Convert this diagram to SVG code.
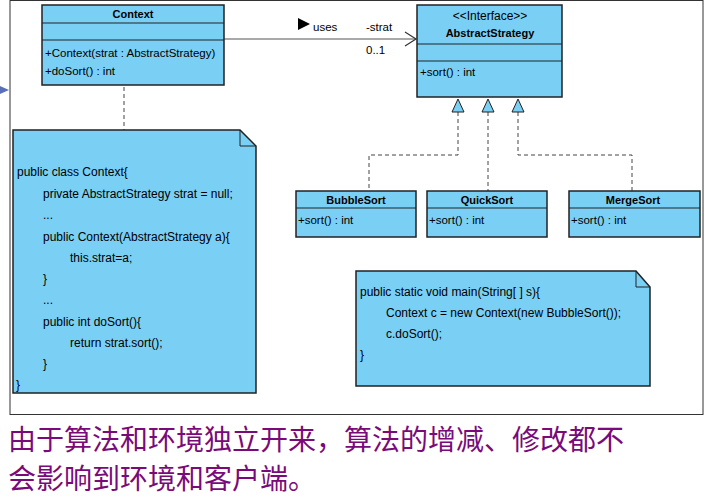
<svg xmlns="http://www.w3.org/2000/svg" width="706" height="496" viewBox="0 0 706 496">
<style>
.box{fill:#7acff5;stroke:#222;stroke-width:1.5}
.ln{stroke:#222;stroke-width:1}
.t{font-family:"Liberation Sans",Arial,sans-serif;font-size:12px;fill:#000}
.b{font-weight:bold;font-size:11px}
.s{font-size:11.5px}
.n{font-size:12px}
.dash{fill:none;stroke:#444;stroke-width:1;stroke-dasharray:4,3}
.cn{font-family:"Noto Sans CJK SC",sans-serif;font-size:28px;fill:#7a0a7a}
</style>
<rect width="706" height="496" fill="#fff"/>
<rect x="10" y="0.5" width="693" height="414" fill="#fff" stroke="#333" stroke-width="1"/>
<path d="M0,86 L9,90 L0,94 Z" fill="#5a6fb8"/>
<g id="connectors">
<line x1="224" y1="39" x2="416" y2="39" stroke="#555" stroke-width="1.2"/>
<path d="M405,32 L416,39 L405,46" fill="none" stroke="#333" stroke-width="1.2"/>
<path d="M298,18 L310,24 L298,30 Z" fill="#000"/>
<text class="t s" x="313" y="31">uses</text>
<text class="t s" x="366" y="31">-strat</text>
<text class="t s" x="366" y="54">0..1</text>
<line class="dash" x1="124" y1="87" x2="124" y2="130"/>
<path class="dash" d="M458,112 V155 H369 V191"/>
<path class="dash" d="M488,112 V191"/>
<path class="dash" d="M518,112 V155 H632 V191"/>
<path d="M452,112 L458,99 L464,112 Z M482,112 L488,99 L494,112 Z M512,112 L518,99 L524,112 Z" fill="#7acff5" stroke="#222" stroke-width="1"/>
</g>
<g id="context">
<rect class="box" x="42" y="5" width="182" height="80"/>
<line class="ln" x1="42" y1="23" x2="224" y2="23"/>
<line class="ln" x1="42" y1="40" x2="224" y2="40"/>
<text class="t b" x="133" y="18" text-anchor="middle">Context</text>
<text class="t s" x="45" y="57">+Context(strat : AbstractStrategy)</text>
<text class="t s" x="45" y="75">+doSort() : int</text>
</g>
<g id="abstract">
<rect class="box" x="417" y="5" width="145" height="92"/>
<line class="ln" x1="417" y1="44" x2="562" y2="44"/>
<line class="ln" x1="417" y1="61" x2="562" y2="61"/>
<text class="t" x="490" y="20" font-size="10" text-anchor="middle">&lt;&lt;Interface&gt;&gt;</text>
<text class="t b" x="490" y="37" text-anchor="middle">AbstractStrategy</text>
<text class="t s" x="420" y="76">+sort() : int</text>
</g>
<g id="bubble">
<rect class="box" x="296" y="191" width="120" height="46"/>
<line class="ln" x1="296" y1="208" x2="416" y2="208"/>
<text class="t b" x="356" y="204" text-anchor="middle">BubbleSort</text>
<text class="t s" x="298" y="224">+sort() : int</text>
</g>
<g id="quick">
<rect class="box" x="427" y="191" width="120" height="46"/>
<line class="ln" x1="427" y1="208" x2="547" y2="208"/>
<text class="t b" x="487" y="204" text-anchor="middle">QuickSort</text>
<text class="t s" x="429" y="224">+sort() : int</text>
</g>
<g id="merge">
<rect class="box" x="569" y="191" width="131" height="46"/>
<line class="ln" x1="569" y1="208" x2="700" y2="208"/>
<text class="t b" x="633" y="204" text-anchor="middle">MergeSort</text>
<text class="t s" x="571" y="224">+sort() : int</text>
</g>
<g id="note1">
<path class="box" d="M13,130 H240 L256,146 V393 H13 Z"/>
<path d="M240,130 V146 H256" fill="none" stroke="#222" stroke-width="1"/>
<g class="t n">
<text x="17" y="176">public class Context{</text>
<text x="43" y="198">private AbstractStrategy strat = null;</text>
<text x="43" y="219">...</text>
<text x="43" y="241">public Context(AbstractStrategy a){</text>
<text x="70" y="262">this.strat=a;</text>
<text x="43" y="283">}</text>
<text x="43" y="304">...</text>
<text x="43" y="326">public int doSort(){</text>
<text x="70" y="347">return strat.sort();</text>
<text x="43" y="368">}</text>
<text x="16" y="389">}</text>
</g>
</g>
<g id="note2">
<path class="box" d="M356,271 H636 L650,287 V386 H356 Z"/>
<path d="M636,271 V287 H650" fill="none" stroke="#222" stroke-width="1"/>
<g class="t n">
<text x="360" y="296">public static void main(String[ ] s){</text>
<text x="386" y="317">Context c = new Context(new BubbleSort());</text>
<text x="386" y="338">c.doSort();</text>
<text x="360" y="359">}</text>
</g>
</g>
<text class="cn" x="8" y="450">由于算法和环境独立开来，算法的增减、修改都不</text>
<text class="cn" x="8" y="489">会影响到环境和客户端。</text>
</svg>
